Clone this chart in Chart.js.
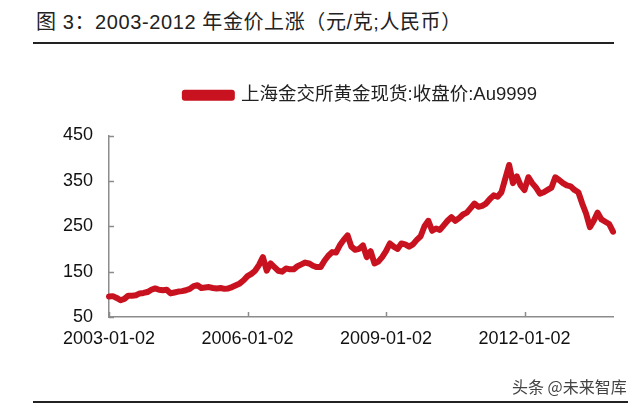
<!DOCTYPE html>
<html>
<head>
<meta charset="utf-8">
<script src="https://cdn.jsdelivr.net/npm/chart.js@4"></script>
<style>
  html, body { margin: 0; padding: 0; background: #fff; }
  #wrap { position: relative; width: 640px; height: 407px; overflow: hidden; }
  #title { position: absolute; left: 36px; top: 12px; font: 20px/20px 'Liberation Sans', 'Noto Sans CJK SC', sans-serif; letter-spacing: 0.6px; color: #222; white-space: nowrap; }
  #topRule { position: absolute; left: 33px; top: 42px; width: 581px; height: 2px; background: #222; }
  #bottomRule { position: absolute; left: 33px; top: 401px; width: 595px; height: 2px; background: #222; }
  #mark { position: absolute; left: 512px; top: 376px; font: 16px/20px 'Noto Sans CJK SC', sans-serif; color: #444; white-space: nowrap; }
  #chartBox { position: absolute; left: 0; top: 0; width: 640px; height: 407px; }
</style>
</head>
<body>
<div id="wrap">
  <div id="title">图 3：2003-2012 年金价上涨（元/克;人民币）</div>
  <div id="topRule"></div>
  <div id="chartBox"><canvas id="goldChart" width="640" height="407"></canvas></div>
  <div id="bottomRule"></div>
  <div id="mark">头条 @未来智库</div>
</div>
<script>
const seriesName = '上海金交所黄金现货:收盘价:Au9999';
const tickLabels = ['2003-01-02', '2006-01-02', '2009-01-02', '2012-01-02'];
const yTicks = [50, 150, 250, 350, 450];

// monthly closes, Jan 2003 .. Dec 2013 (yuan/gram)
const price2003 = [95, 96, 92, 87, 90, 97, 97, 98, 102, 103, 105, 110];
const price2004 = [113, 110, 109, 110, 102, 104, 106, 107, 109, 112, 118, 120];
const price2005 = [114, 115, 116, 114, 113, 114, 112, 113, 116, 120, 124, 131];
const price2006 = [140, 145, 152, 165, 182, 152, 168, 160, 152, 150, 157, 155];
const price2007 = [155, 162, 166, 170, 168, 163, 160, 160, 174, 185, 193, 192];
const price2008 = [208, 220, 230, 205, 198, 200, 208, 182, 195, 168, 172, 182];
const price2009 = [195, 212, 205, 200, 212, 210, 205, 210, 220, 228, 250, 262];
const price2010 = [240, 245, 242, 252, 262, 270, 262, 268, 276, 280, 290, 300];
const price2011 = [293, 295, 300, 310, 318, 315, 325, 355, 385, 345, 360, 340];
const price2012 = [330, 358, 345, 335, 322, 325, 330, 335, 358, 352, 345, 340];
const price2013 = [338, 330, 325, 300, 278, 248, 262, 280, 265, 260, 255, 238];

const prices = [].concat(price2003, price2004, price2005, price2006, price2007, price2008,
                         price2009, price2010, price2011, price2012, price2013);

const categories = [];
for (let y = 2003; y <= 2013; y++) {
    for (let m = 1; m <= 12; m++) {
        categories.push(m === 1 ? y + '-01-02' : y + '-' + String(m).padStart(2, '0'));
    }
}

const lineRed = '#C8121F';
const axisGray = '#8c8c8c';
const fontFamily = "'Liberation Sans', 'Noto Sans CJK SC', sans-serif";

// extra gap between legend and plot
const legendGap = {
    id: 'legendGap',
    afterInit(chart) {
        const lg = chart.legend;
        const fit = lg.fit;
        lg.fit = function () {
            fit.call(this);
            this.height += 21;
        };
    }
};

// small tick marks pointing into the plot, like the original
const innerTicks = {
    id: 'innerTicks',
    afterDraw(chart) {
        const {ctx, scales: {x, y}} = chart;
        ctx.save();
        ctx.strokeStyle = axisGray;
        ctx.lineWidth = 1.5;
        ctx.beginPath();
        for (const v of yTicks) {
            const py = Math.round(y.getPixelForValue(v)) + 0.5;
            ctx.moveTo(x.left, py);
            ctx.lineTo(x.left + 5, py);
        }
        for (const lab of tickLabels) {
            const px = Math.round(x.getPixelForValue(categories.indexOf(lab))) + 0.5;
            ctx.moveTo(px, y.bottom);
            ctx.lineTo(px, y.bottom - 5);
        }
        ctx.stroke();
        ctx.restore();
    }
};

new Chart(document.getElementById('goldChart'), {
    type: 'line',
    data: {
        labels: categories,
        datasets: [{
            label: seriesName,
            data: prices,
            borderColor: lineRed,
            backgroundColor: lineRed,
            borderWidth: 6,
            pointRadius: 0,
            tension: 0,
            borderJoinStyle: 'round',
            borderCapStyle: 'round',
        }]
    },
    options: {
        responsive: false,
        animation: false,
        layout: {
            padding: {top: 76, left: 0, right: 27, bottom: 50}
        },
        plugins: {
            legend: {
                display: true,
                position: 'top',
                fullSize: false,
                labels: {
                    boxWidth: 47,
                    boxHeight: 5,
                    padding: 10,
                    color: '#222',
                    font: {family: fontFamily, size: 18.5},
                },
            },
            tooltip: {enabled: false},
        },
        scales: {
            x: {
                type: 'category',
                offset: false,
                grid: {display: false, drawTicks: false},
                border: {display: true, color: axisGray, width: 1.5},
                ticks: {
                    autoSkip: false,
                    maxRotation: 0,
                    padding: 11,
                    color: '#111',
                    font: {family: fontFamily, size: 18},
                    callback: function (value) {
                        const lab = categories[value];
                        return tickLabels.includes(lab) ? lab : '';
                    },
                },
                afterFit(scale) { scale.height = 40; },
            },
            y: {
                min: 50,
                max: 450,
                grid: {display: false, drawTicks: false},
                border: {display: true, color: axisGray, width: 1.5},
                ticks: {
                    stepSize: 100,
                    padding: 16,
                    color: '#111',
                    font: {family: fontFamily, size: 18},
                },
                afterFit(scale) { scale.width = 109; },
            },
        },
    },
    plugins: [legendGap, innerTicks],
});
</script>
</body>
</html>
